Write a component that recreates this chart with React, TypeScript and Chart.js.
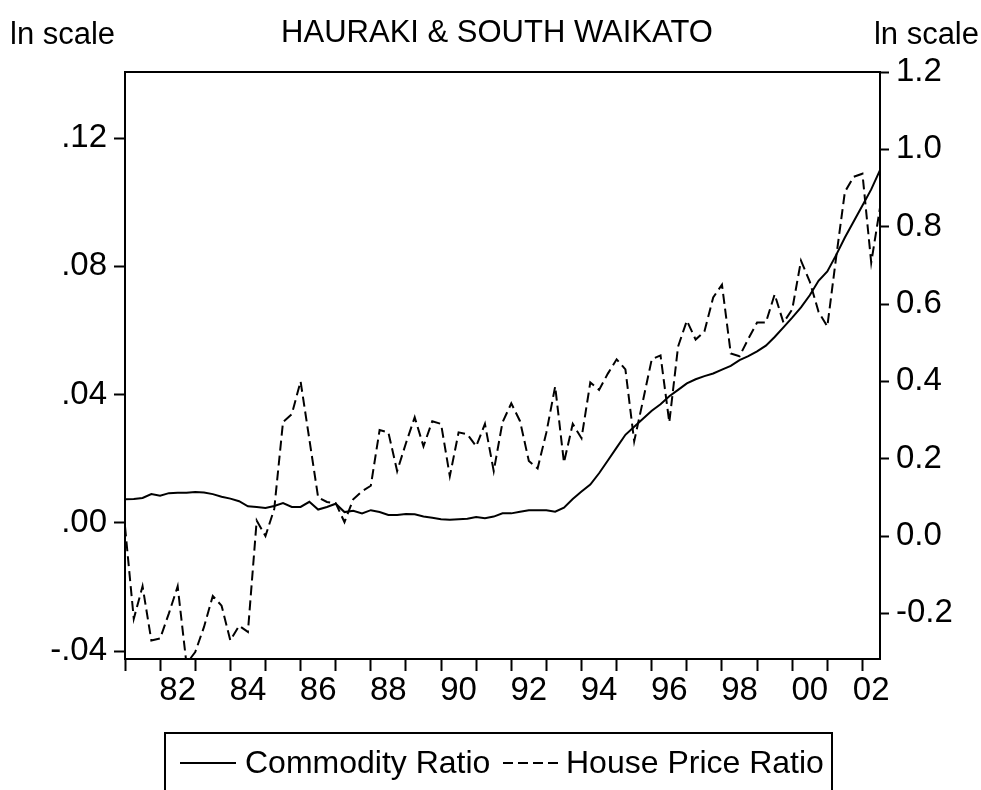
import React, { useEffect, useRef } from 'react';
import { Chart, registerables } from 'chart.js';

Chart.register(...registerables);

const FONT = '"Liberation Sans", Arial, sans-serif';

const TITLE = 'HAURAKI & SOUTH WAIKATO';
const LEFT_UNIT = 'ln scale';
const RIGHT_UNIT = 'ln scale';

const FIRST_YEAR = 1981;
const N_QUARTERS = 87; // 1981Q1 .. 2002Q3
const QUARTERS: string[] = [];
for (let i = 0; i < N_QUARTERS; i++) {
  QUARTERS.push(`${FIRST_YEAR + Math.floor(i / 4)}Q${(i % 4) + 1}`);
}

const SERIES_NAMES = ['Commodity Ratio', 'House Price Ratio'];

// left axis
const COMMODITY_RATIO = [
  0.0074, 0.0075, 0.0078, 0.0090, 0.0085, 0.0093, 0.0094, 0.0094, 0.0097, 0.0095,
  0.0090, 0.0082, 0.0076, 0.0068, 0.0052, 0.0050, 0.0047, 0.0053, 0.0062, 0.0050,
  0.0050, 0.0066, 0.0042, 0.0050, 0.0060, 0.0034, 0.0038, 0.0030, 0.0040, 0.0034,
  0.0025, 0.0025, 0.0028, 0.0027, 0.0020, 0.0016, 0.0012, 0.0010, 0.0012, 0.0013,
  0.0019, 0.0015, 0.0020, 0.0030, 0.0030, 0.0035, 0.0040, 0.0040, 0.0040, 0.0035,
  0.0048, 0.0075, 0.0098, 0.0120, 0.0155, 0.0195, 0.0235, 0.0275, 0.0300, 0.0325,
  0.0350, 0.0370, 0.0395, 0.0415, 0.0435, 0.0448, 0.0458, 0.0466, 0.0478, 0.0490,
  0.0508, 0.0520, 0.0535, 0.0553, 0.0580, 0.0610, 0.0640, 0.0672, 0.0710, 0.0755,
  0.0784, 0.0835, 0.0890, 0.0940, 0.0990, 0.1040, 0.1100,
];

// right axis
const HOUSE_PRICE_RATIO = [
  0.025, -0.214, -0.130, -0.270, -0.265, -0.200, -0.130, -0.330, -0.300, -0.235,
  -0.155, -0.180, -0.270, -0.232, -0.248, 0.040, 0.000, 0.070, 0.295, 0.315,
  0.400, 0.250, 0.100, 0.088, 0.085, 0.036, 0.095, 0.116, 0.130, 0.274,
  0.268, 0.168, 0.240, 0.307, 0.232, 0.297, 0.290, 0.155, 0.268, 0.263,
  0.232, 0.290, 0.168, 0.294, 0.343, 0.297, 0.194, 0.175, 0.268, 0.387,
  0.190, 0.290, 0.253, 0.397, 0.378, 0.420, 0.457, 0.431, 0.245, 0.350,
  0.457, 0.467, 0.294, 0.490, 0.557, 0.508, 0.529, 0.617, 0.650, 0.472,
  0.465, 0.510, 0.552, 0.552, 0.625, 0.552, 0.586, 0.712, 0.658, 0.580,
  0.542, 0.720, 0.890, 0.929, 0.937, 0.707, 0.849,
];

const LEFT_TICKS = [-0.04, 0, 0.04, 0.08, 0.12];
const LEFT_TICK_LABELS = ['-.04', '.00', '.04', '.08', '.12'];
const RIGHT_TICKS = [-0.2, 0, 0.2, 0.4, 0.6, 0.8, 1.0, 1.2];
const RIGHT_TICK_LABELS = ['-0.2', '0.0', '0.2', '0.4', '0.6', '0.8', '1.0', '1.2'];

const YEAR_TICK_POS: number[] = QUARTERS.map((q, i) => (q.endsWith('Q1') ? i : -1)).filter((i) => i >= 0);
const YEAR_LABELS = ['82', '84', '86', '88', '90', '92', '94', '96', '98', '00', '02'];
const YEAR_LABEL_POS = [6, 14, 22, 30, 38, 46, 54, 62, 70, 78, 85];

const LEFT_RANGE = [-0.0424, 0.1406];
const RIGHT_RANGE = [-0.318, 1.2];

function findLabel(v: number, ticks: number[], labels: string[]): string {
  for (let k = 0; k < ticks.length; k++) {
    if (Math.abs(ticks[k] - v) < 1e-9) return labels[k];
  }
  return '';
}

const decorPlugin = {
  id: 'decor',
  afterDraw(chart: any) {
    const ctx = chart.ctx;
    const a = chart.chartArea;
    ctx.save();
    // frame
    ctx.strokeStyle = '#000';
    ctx.lineWidth = 2;
    ctx.setLineDash([]);
    ctx.strokeRect(a.left, a.top, a.right - a.left, a.bottom - a.top);

    // title and unit labels
    ctx.fillStyle = '#000';
    ctx.font = `31px ${FONT}`;
    ctx.textBaseline = 'alphabetic';
    ctx.textAlign = 'center';
    ctx.fillText(TITLE, 497, 42);
    ctx.textAlign = 'left';
    ctx.fillText(LEFT_UNIT, 10, 44);
    ctx.textAlign = 'right';
    ctx.fillText(RIGHT_UNIT, 979, 44);

    // legend box
    ctx.lineWidth = 2;
    ctx.strokeRect(165, 733, 667, 90);
    const ly = 763;
    ctx.beginPath();
    ctx.moveTo(180, ly);
    ctx.lineTo(236, ly);
    ctx.stroke();
    ctx.setLineDash([10, 5]);
    ctx.beginPath();
    ctx.moveTo(503, ly);
    ctx.lineTo(558, ly);
    ctx.stroke();
    ctx.setLineDash([]);
    ctx.font = `32px ${FONT}`;
    ctx.textAlign = 'left';
    ctx.textBaseline = 'middle';
    ctx.fillText(SERIES_NAMES[0], 245, ly + 1);
    ctx.fillText(SERIES_NAMES[1], 566, ly + 1);
    ctx.restore();
  },
};

export default function App() {
  const ref = useRef<HTMLCanvasElement | null>(null);

  useEffect(() => {
    if (!ref.current) return;
    const tickFont = { family: FONT, size: 33 };
    const chart = new Chart(ref.current, {
      type: 'line',
      data: {
        datasets: [
          {
            label: SERIES_NAMES[0],
            data: COMMODITY_RATIO.map((v, i) => ({ x: i, y: v })),
            yAxisID: 'y',
            borderColor: '#000',
            borderWidth: 2,
            pointRadius: 0,
            tension: 0,
            fill: false,
          },
          {
            label: SERIES_NAMES[1],
            data: HOUSE_PRICE_RATIO.map((v, i) => ({ x: i, y: v })),
            yAxisID: 'y1',
            borderColor: '#000',
            borderWidth: 2,
            borderDash: [10, 5],
            pointRadius: 0,
            tension: 0,
            fill: false,
          },
        ],
      },
      options: {
        responsive: false,
        animation: false,
        events: [],
        layout: { padding: { top: 72, left: 0, right: 0, bottom: 0 } },
        plugins: {
          legend: { display: false },
          title: { display: false },
          tooltip: { enabled: false },
        },
        scales: {
          x: {
            type: 'linear',
            position: 'bottom',
            min: 0,
            max: N_QUARTERS - 1,
            afterBuildTicks: (s: any) => {
              const all = [...YEAR_TICK_POS, ...YEAR_LABEL_POS].sort((p, q) => p - q);
              s.ticks = all.map((v) => ({ value: v }));
            },
            afterFit: (s: any) => {
              s.height = 131;
            },
            grid: {
              display: true,
              drawOnChartArea: false,
              drawTicks: true,
              tickLength: 12,
              tickWidth: 2,
              tickColor: (c: any) =>
                c.tick && YEAR_TICK_POS.includes(c.tick.value) ? '#000' : 'rgba(0,0,0,0)',
            },
            border: { display: true, color: '#000', width: 2 },
            ticks: {
              autoSkip: false,
              maxRotation: 0,
              minRotation: 0,
              padding: 0,
              color: '#000',
              font: tickFont,
              callback: (v: any) => findLabel(Number(v), YEAR_LABEL_POS, YEAR_LABELS),
            },
          },
          y: {
            type: 'linear',
            position: 'left',
            min: LEFT_RANGE[0],
            max: LEFT_RANGE[1],
            afterBuildTicks: (s: any) => {
              s.ticks = LEFT_TICKS.map((v) => ({ value: v }));
            },
            afterFit: (s: any) => {
              s.width = 125;
            },
            grid: {
              display: true,
              drawOnChartArea: false,
              drawTicks: true,
              tickLength: 11,
              tickWidth: 2,
              tickColor: '#000',
            },
            border: { display: true, color: '#000', width: 2 },
            ticks: {
              padding: 7,
              color: '#000',
              font: tickFont,
              callback: (v: any) => findLabel(Number(v), LEFT_TICKS, LEFT_TICK_LABELS),
            },
          },
          y1: {
            type: 'linear',
            position: 'right',
            min: RIGHT_RANGE[0],
            max: RIGHT_RANGE[1],
            afterBuildTicks: (s: any) => {
              s.ticks = RIGHT_TICKS.map((v) => ({ value: v }));
            },
            afterFit: (s: any) => {
              s.width = 101;
            },
            grid: {
              display: true,
              drawOnChartArea: false,
              drawTicks: true,
              tickLength: 9,
              tickWidth: 2,
              tickColor: '#000',
            },
            border: { display: true, color: '#000', width: 2 },
            ticks: {
              padding: 7,
              color: '#000',
              font: tickFont,
              callback: (v: any) => findLabel(Number(v), RIGHT_TICKS, RIGHT_TICK_LABELS),
            },
          },
        },
      } as any,
      plugins: [decorPlugin],
    });
    return () => chart.destroy();
  }, []);

  return (
    <div style={{ position: 'absolute', left: 0, top: 0, width: 981, height: 790, background: '#fff' }}>
      <canvas ref={ref} width={981} height={790} style={{ display: 'block' }} />
    </div>
  );
}
